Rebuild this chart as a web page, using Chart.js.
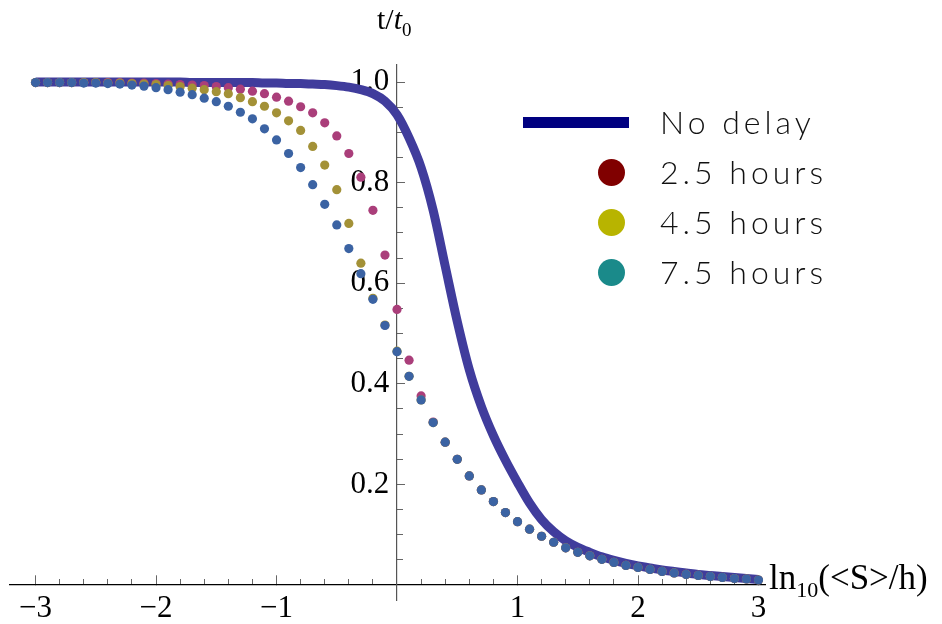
<!DOCTYPE html>
<html lang="en">
<head>
    <meta charset="UTF-8">
    <title>t/t0 vs ln10(&lt;S&gt;/h)</title>
    <script src="https://cdn.jsdelivr.net/npm/chart.js"></script>
    <style>
        body { margin: 0; background: #fff; }
        #wrap { position: relative; width: 942px; height: 624px; }
        #chart { position: absolute; left: 0; top: 0; }
        .serif { position: absolute; font-family: 'Liberation Serif', 'DejaVu Serif', serif; font-size: 30px; color: #000; white-space: nowrap; }
        .serif sub { font-size: 19px; }
        .legend-row { position: absolute; left: 0; height: 40px; width: 942px; }
        .legend-text { position: absolute; left: 660px; top: 0; line-height: 40px; font-family: 'Lato', 'Open Sans', sans-serif; font-weight: 300; font-size: 32px; letter-spacing: 4px; color: #111; white-space: nowrap; }
        .swatch-line { position: absolute; left: 523px; top: 15px; width: 106px; height: 11px; background: #000080; }
        .swatch-dot { position: absolute; left: 598px; top: 7px; width: 27px; height: 27px; border-radius: 50%; }
    </style>
</head>
<body>
    <div id="wrap">
        <canvas id="chart" width="942" height="624"></canvas>
        <div class="serif" style="left:377px; top:2px;">t/<i>t</i><sub>0</sub></div>
        <div class="serif" style="left:769px; top:558px; font-size:35px;">ln<sub style="font-size:22px;">10</sub>(&lt;S&gt;/h)</div>
        <div class="legend-row" style="top:102px;"><div class="swatch-line"></div><div class="legend-text">No delay</div></div>
        <div class="legend-row" style="top:152px;"><div class="swatch-dot" style="background:#800000;"></div><div class="legend-text">2.5 hours</div></div>
        <div class="legend-row" style="top:202px;"><div class="swatch-dot" style="background:#b8b400;"></div><div class="legend-text">4.5 hours</div></div>
        <div class="legend-row" style="top:252px;"><div class="swatch-dot" style="background:#1a8a8a;"></div><div class="legend-text">7.5 hours</div></div>
    </div>

    <script>
        // x positions, ln10(<S>/h)
        const xValues = [-3.0, -2.9, -2.8, -2.7, -2.6, -2.5, -2.4, -2.3, -2.2, -2.1,
            -2.0, -1.9, -1.8, -1.7, -1.6, -1.5, -1.4, -1.3, -1.2, -1.1,
            -1.0, -0.9, -0.8, -0.7, -0.6, -0.5, -0.4, -0.3, -0.2, -0.1,
            0.0, 0.1, 0.2, 0.3, 0.4, 0.5, 0.6, 0.7, 0.8, 0.9,
            1.0, 1.1, 1.2, 1.3, 1.4, 1.5, 1.6, 1.7, 1.8, 1.9,
            2.0, 2.1, 2.2, 2.3, 2.4, 2.5, 2.6, 2.7, 2.8, 2.9, 3.0];

        const noDelay = [1.000, 1.000, 1.000, 1.000, 1.000, 1.000, 1.000, 1.000, 1.000, 1.000,
            1.000, 1.000, 1.000, 0.999, 0.999, 0.999, 0.999, 0.999, 0.999, 0.998,
            0.998, 0.997, 0.997, 0.996, 0.995, 0.993, 0.990, 0.985, 0.977, 0.962,
            0.935, 0.889, 0.830, 0.745, 0.634, 0.524, 0.428, 0.355, 0.297, 0.248,
            0.204, 0.163, 0.130, 0.106, 0.088, 0.075, 0.065, 0.056, 0.049, 0.043,
            0.038, 0.034, 0.030, 0.027, 0.024, 0.021, 0.019, 0.017, 0.015, 0.013, 0.011];

        const delay25 = [0.999, 0.999, 0.999, 0.999, 0.999, 0.999, 0.999, 0.999, 0.998, 0.998,
            0.997, 0.996, 0.995, 0.994, 0.993, 0.991, 0.989, 0.986, 0.982, 0.977,
            0.970, 0.962, 0.951, 0.939, 0.919, 0.893, 0.858, 0.811, 0.745, 0.656,
            0.548, 0.447, 0.376, 0.324, 0.284, 0.250, 0.217, 0.189, 0.166, 0.144,
            0.126, 0.111, 0.097, 0.085, 0.074, 0.065, 0.058, 0.051, 0.045, 0.039,
            0.035, 0.031, 0.027, 0.024, 0.021, 0.019, 0.017, 0.015, 0.013, 0.012, 0.010];

        const delay45 = [0.999, 0.999, 0.999, 0.999, 0.999, 0.999, 0.998, 0.998, 0.997, 0.996,
            0.995, 0.993, 0.991, 0.988, 0.985, 0.981, 0.977, 0.969, 0.961, 0.952,
            0.939, 0.923, 0.904, 0.872, 0.835, 0.786, 0.719, 0.640, 0.570, 0.517,
            0.465, 0.415, 0.368, 0.323, 0.284, 0.250, 0.217, 0.189, 0.166, 0.144,
            0.126, 0.111, 0.097, 0.085, 0.074, 0.065, 0.058, 0.051, 0.045, 0.039,
            0.035, 0.031, 0.027, 0.024, 0.021, 0.019, 0.017, 0.015, 0.013, 0.012, 0.010];

        const delay75 = [0.999, 0.999, 0.999, 0.999, 0.998, 0.998, 0.997, 0.996, 0.994, 0.992,
            0.989, 0.985, 0.980, 0.975, 0.968, 0.961, 0.952, 0.940, 0.927, 0.907,
            0.885, 0.858, 0.830, 0.796, 0.757, 0.716, 0.669, 0.619, 0.568, 0.516,
            0.464, 0.415, 0.368, 0.323, 0.284, 0.250, 0.217, 0.189, 0.166, 0.144,
            0.126, 0.111, 0.097, 0.085, 0.074, 0.065, 0.058, 0.051, 0.045, 0.039,
            0.035, 0.031, 0.027, 0.024, 0.021, 0.019, 0.017, 0.015, 0.013, 0.012, 0.010];

        // axis ticks
        const xMajorTicks = [-3, -2, -1, 1, 2, 3];
        const xMinorTicks = [-3, -2.8, -2.6, -2.4, -2.2, -2, -1.8, -1.6, -1.4, -1.2, -1, -0.8, -0.6, -0.4, -0.2,
            0.2, 0.4, 0.6, 0.8, 1, 1.2, 1.4, 1.6, 1.8, 2, 2.2, 2.4, 2.6, 2.8, 3];
        const yMajorTicks = [0.2, 0.4, 0.6, 0.8, 1.0];
        const yMinorTicks = [0.05, 0.1, 0.15, 0.2, 0.25, 0.3, 0.35, 0.4, 0.45, 0.5, 0.55, 0.6,
            0.65, 0.7, 0.75, 0.8, 0.85, 0.9, 0.95, 1.0];

        function points(ys) {
            return xValues.map((x, i) => ({ x: x, y: ys[i] }));
        }

        function setTicks(list) {
            return scale => { scale.ticks = list.map(v => ({ value: v })); };
        }

        Chart.defaults.font.family = 'Liberation Serif';
        Chart.defaults.font.size = 31;
        Chart.defaults.color = '#000';

        const xRange = { min: -3.212, max: 3.054 };
        const yRange = { min: -0.0298, max: 1.034 };

        new Chart(document.getElementById('chart'), {
            type: 'scatter',
            data: {
                datasets: [
                    {
                        label: 'No delay',
                        data: points(noDelay),
                        showLine: true,
                        borderColor: '#403c9c',
                        borderWidth: 9,
                        pointRadius: 0,
                        cubicInterpolationMode: 'monotone',
                        order: 4
                    },
                    {
                        label: '2.5 hours',
                        data: points(delay25),
                        backgroundColor: '#aa3e7a',
                        borderWidth: 0,
                        pointRadius: 4.6,
                        order: 3
                    },
                    {
                        label: '4.5 hours',
                        data: points(delay45),
                        backgroundColor: '#a39137',
                        borderWidth: 0,
                        pointRadius: 4.6,
                        order: 2
                    },
                    {
                        label: '7.5 hours',
                        data: points(delay75),
                        backgroundColor: '#3b63a3',
                        borderWidth: 0,
                        pointRadius: 4.6,
                        order: 1
                    }
                ]
            },
            options: {
                responsive: false,
                animation: false,
                layout: { padding: { left: 10, right: 177, top: 65, bottom: 24 } },
                plugins: { legend: { display: false }, tooltip: { enabled: false } },
                scales: {
                    x: {
                        type: 'linear', ...xRange,
                        position: { y: 0 },
                        afterBuildTicks: setTicks(xMajorTicks),
                        border: { display: true, color: '#000', width: 1.3 },
                        grid: { drawOnChartArea: false, tickLength: -10, color: '#666', lineWidth: 1 },
                        ticks: {
                            font: { family: 'Liberation Serif', size: 31 }, padding: 15, maxRotation: 0,
                            callback: v => v < 0 ? '\u2212' + Math.abs(v) : String(v)
                        }
                    },
                    x2: {
                        type: 'linear', ...xRange,
                        position: { y: 0 },
                        afterBuildTicks: setTicks(xMinorTicks),
                        border: { display: false },
                        grid: { drawOnChartArea: false, tickLength: -6, color: '#666', lineWidth: 1 },
                        ticks: { display: false }
                    },
                    y: {
                        type: 'linear', ...yRange,
                        position: { x: 0 },
                        afterBuildTicks: setTicks(yMajorTicks),
                        border: { display: true, color: '#555', width: 1.2 },
                        grid: { drawOnChartArea: false, tickLength: -9, color: '#666', lineWidth: 1 },
                        ticks: {
                            font: { family: 'Liberation Serif', size: 31 }, padding: 0,
                            callback: v => v.toFixed(1) + ' '
                        }
                    },
                    y2: {
                        type: 'linear', ...yRange,
                        position: { x: 0 },
                        afterBuildTicks: setTicks(yMinorTicks),
                        border: { display: false },
                        grid: { drawOnChartArea: false, tickLength: -6, color: '#666', lineWidth: 1 },
                        ticks: { display: false }
                    }
                }
            }
        });
    </script>
</body>
</html>
